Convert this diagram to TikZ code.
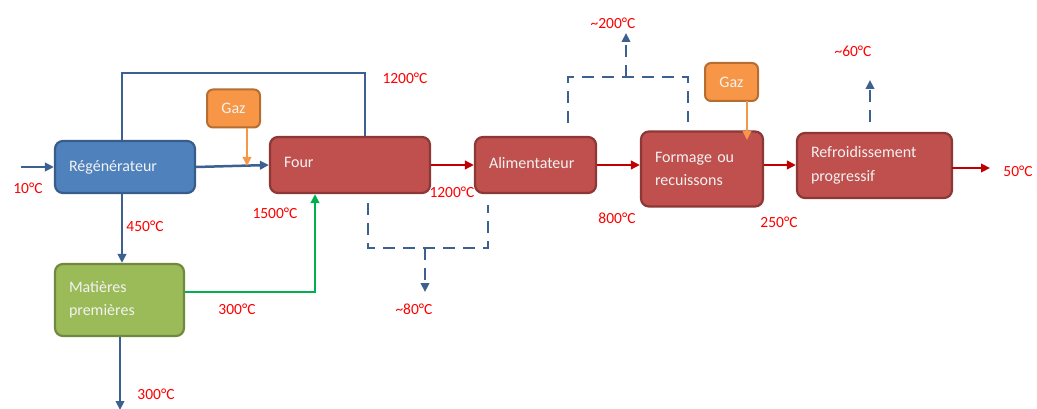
\documentclass[tikz,border=0pt]{standalone}
\usepackage{fontspec}
\setmainfont{Carlito}
\usetikzlibrary{arrows.meta}
\definecolor{bfill}{HTML}{4F81BD}\definecolor{bdraw}{HTML}{385D8A}
\definecolor{rfill}{HTML}{C0504D}\definecolor{rdraw}{HTML}{8C3836}
\definecolor{gfill}{HTML}{9BBB59}\definecolor{gdraw}{HTML}{71893F}
\definecolor{ofill}{HTML}{F79646}\definecolor{odraw}{HTML}{B66D31}
\definecolor{bline}{HTML}{3C6190}\definecolor{rline}{HTML}{C00000}
\definecolor{gline}{HTML}{00B050}\definecolor{oline}{HTML}{F79646}
\definecolor{lbl}{HTML}{FF0000}\definecolor{btxt}{HTML}{F2F2F2}
\tikzset{
  box/.style={rounded corners=8pt, line width=2.2pt, inner xsep=14pt, inner ysep=0pt,
    align=left, text=btxt, font=\fontsize{16}{23.5}\selectfont},
  bluebox/.style={box, fill=bfill, draw=bdraw},
  redbox/.style={box, fill=rfill, draw=rdraw},
  greenbox/.style={box, fill=gfill, draw=gdraw},
  gazbox/.style={rounded corners=6pt, line width=2pt, fill=ofill, draw=odraw, inner sep=0pt,
    text=btxt, font=\fontsize{16}{18}\selectfont, minimum width=53pt, minimum height=38pt},
  tip/.style={-{Triangle[length=9pt,width=8.5pt]}},
  bflow/.style={draw=bline, line width=2.5pt},
  rflow/.style={draw=rline, line width=2.5pt},
  gflow/.style={draw=gline, line width=2.5pt},
  oflow/.style={draw=oline, line width=1.8pt},
  dflow/.style={draw=bline, line width=2.5pt, dash pattern=on 12pt off 8pt},
  temp/.style={text=lbl, font=\fontsize{15.5}{18}\selectfont, inner sep=0pt},
}
\begin{document}
\begin{tikzpicture}[x=1pt,y=-1pt]
\useasboundingbox (0,0) rectangle (1037,409);
% boxes
\node[bluebox, minimum width=140pt, minimum height=52pt, text width=112pt] (reg) at (125,167) {Régénérateur};
\node[redbox, minimum width=160pt, minimum height=56pt, text width=132pt] (four) at (350,165) {\raisebox{6pt}{Four}};
\node[redbox, minimum width=121pt, minimum height=56pt, text width=93pt] (alim) at (535.5,165) {\raisebox{5pt}{Alimentateur}};
\node[redbox, minimum width=122pt, minimum height=75pt, text width=94pt] (form) at (702,169) {\raisebox{4pt}{\parbox[c]{94pt}{\raggedright Formage ou\\recuissons}}};
\node[redbox, minimum width=155pt, minimum height=65pt, text width=127pt] (refr) at (874.5,165.5) {Refroidissement\\progressif};
\node[greenbox, minimum width=129pt, minimum height=72pt, text width=101pt] (mat) at (119.5,300) {Matières\\premières};
\node[gazbox] (gaz1) at (233.5,108.5) {Gaz};
\node[gazbox] (gaz2) at (731.5,82) {Gaz};
% coordinates
\coordinate (in) at (21,167);
\coordinate (g1) at (247,166);
\coordinate (loopA) at (122,73);
\coordinate (loopB) at (365,73);
\coordinate (gcorner) at (315,292);
\coordinate (matout) at (120,410);
\coordinate (dA1) at (368,203); \coordinate (dA2) at (368,248);
\coordinate (dA3) at (488,248); \coordinate (dA4) at (488,205);
\coordinate (dAm) at (425,248); \coordinate (dAt) at (425,292);
\coordinate (dB1) at (568,123); \coordinate (dB2) at (568,77);
\coordinate (dB3) at (688,77); \coordinate (dB4) at (688,122);
\coordinate (dBm) at (626,77); \coordinate (dBt) at (626,33);
\coordinate (g2a) at (747,101); \coordinate (g2b) at (747,140);
\coordinate (dC1) at (870,122); \coordinate (dC2) at (870,80);
\coordinate (r1) at (0,165);
\coordinate (out0) at (952,168); \coordinate (out) at (990,168);
% blue flows
\draw[bflow, tip] (in) -- (reg.west);
\draw[bflow, tip] (reg.east) -- (four.west);
\draw[bflow] (reg.north -| loopA) -- (loopA) -- (loopB) -- (four.north -| loopB);
\draw[bflow, tip] (reg.south -| loopA) -- (mat.north -| loopA);
\draw[bflow, tip] (mat.south -| matout) -- (matout);
% gaz
\draw[oflow, tip] (gaz1.south -| g1) -- (g1);
\draw[oflow, tip] (g2a) -- (g2b);
% green
\draw[gflow, tip] (mat.east |- gcorner) -- (gcorner) -- (four.south -| gcorner);
% red
\draw[rflow, tip] (four.east) -- (alim.west);
\draw[rflow, tip] (alim.east) -- (form.west |- alim.east);
\draw[rflow, tip] (form.east |- r1) -- (refr.west |- r1);
\draw[rflow, tip] (out0) -- (out);
% dashed
\draw[dflow] (dA1) -- (dA2) -- (dA3) -- (dA4);
\draw[dflow, tip] (dAm) -- (dAt);
\draw[dflow] (dB1) -- (dB2) -- (dB3) -- (dB4);
\draw[dflow, tip] (dBm) -- (dBt);
\draw[dflow, tip] (dC1) -- (dC2);
% labels
\node[temp] (t10) at (28,188) {10°C};
\node[temp] (t1200a) at (405,78) {1200°C};
\node[temp] (t1500) at (275,213) {1500°C};
\node[temp] (t450) at (145,226) {450°C};
\node[temp] (t300a) at (237,309) {300°C};
\node[temp] (t300b) at (156,394) {300°C};
\node[temp] (t80) at (414,309) {\textasciitilde80°C};
\node[temp] (t1200b) at (452,192) {1200°C};
\node[temp] (t800) at (617,218) {800°C};
\node[temp] (t200) at (613,23) {\textasciitilde200°C};
\node[temp] (t250) at (779,222) {250°C};
\node[temp] (t60) at (853,51) {\textasciitilde60°C};
\node[temp] (t50) at (1018,171) {50°C};
\end{tikzpicture}
\end{document}
